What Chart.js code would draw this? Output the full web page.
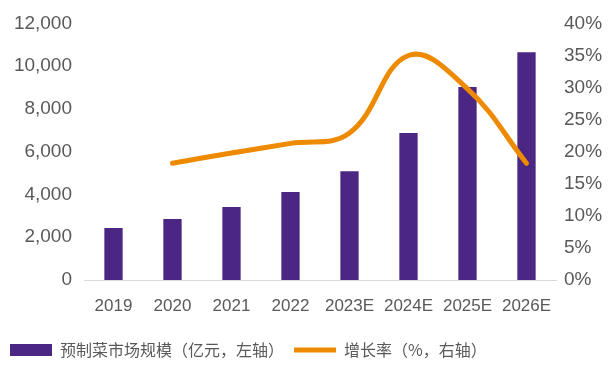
<!DOCTYPE html>
<html>
<head>
<meta charset="utf-8">
<title>预制菜市场规模</title>
<script src="https://cdn.jsdelivr.net/npm/chart.js@4.4.1/dist/chart.umd.min.js"></script>
<style>
  html, body { margin: 0; padding: 0; background: #fff; }
  #wrap { width: 612px; height: 366px; }
</style>
</head>
<body>
<div id="wrap"><canvas id="c"></canvas></div>
<script>
// values
const years = ['2019', '2020', '2021', '2022', '2023E', '2024E', '2025E', '2026E'];
const marketSize = [2430, 2850, 3410, 4110, 5090, 6870, 9020, 10650];   // 亿元
const growthRate = [null, 18.2, 19.8, 21.3, 22.9, 35.0, 29.8, 18.2];    // %
const leftTicks = [0, 2000, 4000, 6000, 8000, 10000, 12000];
const rightTicks = [0, 5, 10, 15, 20, 25, 30, 35, 40];

const purple = '#4b2682';
const orange = '#ee8a00';
const grey = '#595959';

const chart = new Chart(document.getElementById('c'), {
  type: 'bar',
  data: {
    labels: years,
    datasets: [{
      label: '预制菜市场规模（亿元，左轴）',
      data: marketSize,
      backgroundColor: purple,
      yAxisID: 'y',
      order: 1,
      categoryPercentage: 1,
      barPercentage: 0.31
    }, {
      type: 'line',
      label: '增长率（%，右轴）',
      data: growthRate,
      borderColor: orange,
      backgroundColor: orange,
      borderWidth: 5,
      pointRadius: 0,
      tension: 0.4,
      borderCapStyle: 'round',
      yAxisID: 'y2',
      order: 0
    }]
  },
  options: {
    responsive: true,
    maintainAspectRatio: false,
    animation: false,
    layout: { padding: { top: 14, bottom: -2, left: 0, right: 0 } },
    plugins: {
      tooltip: { enabled: false },
      legend: {
        position: 'bottom',
        align: 'start',
        labels: {
          usePointStyle: true,
          pointStyleWidth: 42,
          boxHeight: 12,
          padding: 10,
          color: grey,
          font: { family: '"Noto Sans CJK SC", sans-serif', size: 16 },
          sort: (a, b) => a.datasetIndex - b.datasetIndex,
          generateLabels: (ch) => ch.data.datasets.map((ds, i) => ({
            text: ds.label,
            datasetIndex: i,
            fillStyle: ds.type === 'line' ? ds.borderColor : ds.backgroundColor,
            strokeStyle: ds.type === 'line' ? ds.borderColor : ds.backgroundColor,
            lineWidth: ds.type === 'line' ? 5 : 0,
            pointStyle: ds.type === 'line' ? 'line' : 'rect',
            fontColor: grey,
            hidden: false
          }))
        }
      }
    },
    scales: {
      x: {
        afterFit: (s) => { s.height = 52; },
        grid: { display: false, drawTicks: false },
        border: { display: true, color: '#d9d9d9', width: 1 },
        ticks: {
          color: grey,
          padding: 16,
          font: { family: '"Liberation Sans Narrow", "Arial Narrow", "Liberation Sans", sans-serif', size: 17 }
        }
      },
      y: {
        position: 'left',
        min: 0, max: 12000,
        afterBuildTicks: (s) => { s.ticks = leftTicks.map(v => ({ value: v })); },
        afterFit: (s) => { s.width = 84; },
        grid: { display: false, drawTicks: false },
        border: { display: false },
        ticks: {
          color: grey,
          padding: 12,
          font: { family: '"Liberation Sans", Arial, sans-serif', size: 19 },
          callback: (v) => v.toLocaleString('en-US')
        }
      },
      y2: {
        position: 'right',
        min: 0, max: 40,
        afterBuildTicks: (s) => { s.ticks = rightTicks.map(v => ({ value: v })); },
        afterFit: (s) => { s.width = 56; },
        grid: { display: false, drawTicks: false },
        border: { display: false },
        ticks: {
          color: grey,
          padding: 8,
          font: { family: '"Liberation Sans", Arial, sans-serif', size: 19 },
          callback: (v) => v + '%'
        }
      }
    }
  }
});
</script>
</body>
</html>
